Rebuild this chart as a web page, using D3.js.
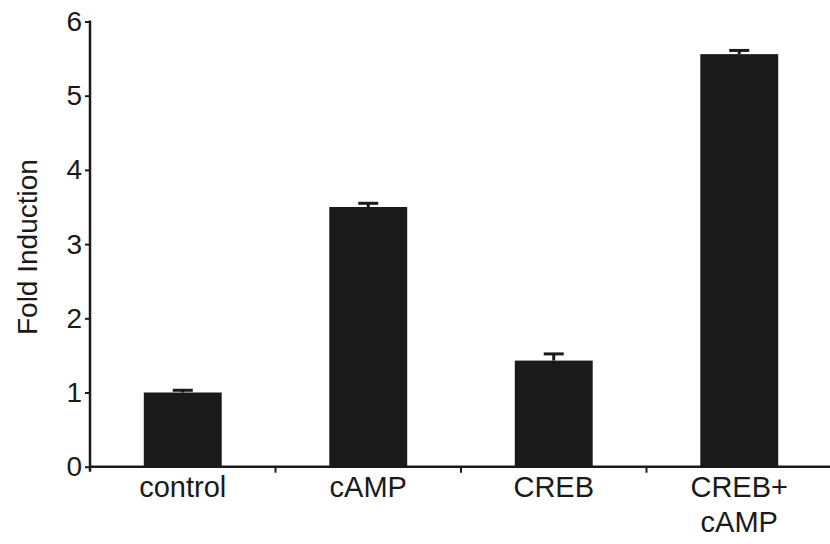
<!DOCTYPE html>
<html>
<head>
<meta charset="utf-8">
<script src="https://cdn.jsdelivr.net/npm/d3@7"></script>
<style>
  html, body { margin: 0; padding: 0; background: #fff; }
  svg { display: block; }
  text { font-family: "Liberation Sans", Arial, Helvetica, sans-serif; fill: #1a1a1a; }
</style>
</head>
<body>
<svg id="chart" width="830" height="544"></svg>
<script>
const categories = [["control"], ["cAMP"], ["CREB"], ["CREB+", "cAMP"]];
const values = [1.0, 3.5, 1.43, 5.56];
const errors = [0.03, 0.05, 0.09, 0.05];
const yTicks = [0, 1, 2, 3, 4, 5, 6];
const yLabel = "Fold Induction";

const svg = d3.select("#chart");
const W = 830, H = 544;
const left = 90, right = 832, y0 = 466.7, yTop = 21.5;

const keys = categories.map(c => c.join(" "));
const x = d3.scaleBand().domain(keys).range([left, right]).paddingInner(0.58).paddingOuter(0.29);
const y = d3.scaleLinear().domain([0, 6]).range([y0, yTop]);
const ink = "#1a1a1a";

// bars
svg.append("g").selectAll("rect").data(values).join("rect")
  .attr("x", (d, i) => x(keys[i]))
  .attr("y", d => y(d))
  .attr("width", x.bandwidth())
  .attr("height", d => y(0) - y(d))
  .attr("fill", ink);

// error bars (upper only)
const eb = svg.append("g").attr("stroke", ink);
values.forEach((v, i) => {
  const cx = x(keys[i]) + x.bandwidth() / 2;
  eb.append("line").attr("x1", cx).attr("x2", cx)
    .attr("y1", y(v)).attr("y2", y(v + errors[i])).attr("stroke-width", 3);
  eb.append("line").attr("x1", cx - 10).attr("x2", cx + 10)
    .attr("y1", y(v + errors[i])).attr("y2", y(v + errors[i])).attr("stroke-width", 3);
});

// y axis
const yAxis = d3.axisLeft(y).tickValues(yTicks).tickFormat(d3.format("d")).tickSize(5).tickPadding(3);
const gy = svg.append("g").attr("transform", `translate(${left},0)`).call(yAxis);
gy.select(".domain").remove();
gy.selectAll(".tick line").attr("stroke", ink).attr("stroke-width", 2);
gy.selectAll(".tick text").attr("font-size", 28).attr("font-family", "Liberation Sans, Arial, sans-serif").attr("fill", ink);
svg.append("line").attr("x1", left).attr("x2", left).attr("y1", y(6) - 1).attr("y2", y0 + 5)
  .attr("stroke", ink).attr("stroke-width", 2.5);

// x axis line
svg.append("line").attr("x1", left).attr("x2", W).attr("y1", y0).attr("y2", y0)
  .attr("stroke", ink).attr("stroke-width", 2.5);
// x ticks at band boundaries
const step = x.step();
const bounds = keys.slice(1).map(k => x(k) - (step - x.bandwidth()) / 2);
svg.append("g").selectAll("line").data(bounds).join("line")
  .attr("x1", d => d).attr("x2", d => d).attr("y1", y0).attr("y2", y0 + 6)
  .attr("stroke", ink).attr("stroke-width", 2);

// category labels
const lab = svg.append("g");
categories.forEach((lines, i) => {
  const cx = x(keys[i]) + x.bandwidth() / 2;
  const t = lab.append("text").attr("text-anchor", "middle").attr("font-size", 29)
    .attr("x", cx).attr("y", 497);
  lines.forEach((ln, j) => {
    t.append("tspan").attr("x", cx).attr("dy", j === 0 ? 0 : 35).text(ln);
  });
});

// y label
svg.append("text").attr("text-anchor", "middle").attr("font-size", 28)
  .attr("transform", `translate(37,${(y(0) + y(6)) / 2 + 3}) rotate(-90)`)
  .text(yLabel);
</script>
</body>
</html>
